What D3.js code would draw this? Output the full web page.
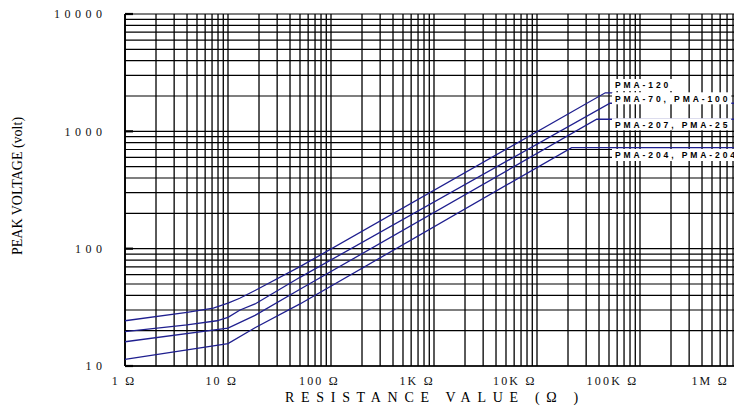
<!DOCTYPE html>
<html><head><meta charset="utf-8">
<script src="https://cdn.jsdelivr.net/npm/d3@7"></script>
<style>html,body{margin:0;padding:0;background:#fff;} svg{display:block;}</style>
</head><body>
<script>
// ---- data ----
const seriesNames = ["PMA-120", "PMA-70, PMA-100", "PMA-207, PMA-25", "PMA-204, PMA-204"];
const r120 = [1, 4, 7.2, 10, 13, 18.3, 50, 46000, 54700];
const v120 = [24.3, 28.7, 31.1, 34.3, 37.8, 44, 70.3, 2130, 2130];
const r70  = [1, 4, 7.8, 10, 13.1, 18.3, 50, 51100, 1000000];
const v70  = [19.6, 22.4, 24.3, 26.0, 30.0, 33.8, 57, 1736, 1736];
const r207 = [1, 10, 18.3, 50, 38000, 1000000];
const v207 = [16.1, 21.0, 27, 45.1, 1268, 1268];
const r204 = [1, 10, 18.3, 50, 21700, 1000000];
const v204 = [11.4, 15.5, 21.2, 33.8, 726, 726];
const xTickValues = [1, 10, 100, 1e3, 1e4, 1e5, 1e6];
const xTickLabels = ["1 Ω", "10 Ω", "100 Ω", "1K Ω", "10K Ω", "100K Ω", "1M Ω"];
const yTickValues = [10, 100, 1000, 10000];
const yTickLabels = ["10", "100", "1000", "10000"];
const xTitle = "RESISTANCE VALUE (Ω )";
const yTitle = "PEAK VOLTAGE (volt)";

(function () {
// ---- layout ----
const W = 734, H = 412;
const leftX = 125, topY = 14, bottomY = 366, decade = 103;
const svg = d3.select("body").append("svg").attr("width", W).attr("height", H)
  .style("background", "#fff");

const x = d3.scaleLog().domain([1, 1e6]).range([leftX, leftX + 6 * decade]);
const y = d3.scaleLog().domain([10, 10000]).range([bottomY, topY]);
const xLab = d3.scaleLog().domain([1, 1e6]).range([123, 709]);
const serif = "'Liberation Serif', 'Times New Roman', serif";

const g = svg.append("g");
// vertical grid
g.selectAll("line.vg").data(x.ticks()).enter().append("line")
  .attr("x1", d => x(d)).attr("x2", d => x(d))
  .attr("y1", topY).attr("y2", bottomY)
  .attr("stroke", "#000").attr("stroke-width", 1.3);
// horizontal grid
g.selectAll("line.hg").data(y.ticks()).enter().append("line")
  .attr("x1", leftX).attr("x2", W + 20)
  .attr("y1", d => y(d)).attr("y2", d => y(d))
  .attr("stroke", "#000").attr("stroke-width", 1.2);
// axis lines
g.append("line").attr("x1", leftX).attr("x2", leftX).attr("y1", topY).attr("y2", bottomY)
  .attr("stroke", "#000").attr("stroke-width", 1.8);
g.append("line").attr("x1", leftX).attr("x2", W + 20).attr("y1", bottomY).attr("y2", bottomY)
  .attr("stroke", "#000").attr("stroke-width", 1.5);
// major tick stubs
g.selectAll("line.mt").data(yTickValues).enter().append("line")
  .attr("x1", leftX).attr("x2", leftX + 8)
  .attr("y1", d => y(d)).attr("y2", d => y(d))
  .attr("stroke", "#000").attr("stroke-width", 2.2);

// curves
const series = [[r120, v120], [r70, v70], [r207, v207], [r204, v204]];
const line = d3.line().x(d => x(d[0])).y(d => y(d[1]));
series.forEach(([rs, vs]) => {
  svg.append("path").datum(rs.map((r, i) => [r, vs[i]]))
    .attr("d", line).attr("fill", "none")
    .attr("stroke", "#1f1f8f").attr("stroke-width", 1.3);
});

// legend labels with white backgrounds
const rowY = [85, 98.3, 124.3, 155];
seriesNames.forEach((name, i) => {
  const rect = svg.append("rect").attr("fill", "#fff");
  const t = svg.append("text").attr("x", 615).attr("y", rowY[i] + 3.2)
    .attr("font-family", "'Liberation Sans', Arial, sans-serif")
    .attr("font-weight", "bold").attr("font-size", 8.5)
    .attr("letter-spacing", 2.9).attr("fill", "#000").text(name);
  const bb = t.node().getBBox();
  rect.attr("x", 612).attr("y", rowY[i] - 6)
    .attr("width", bb.x + bb.width - 612 + 1).attr("height", 12);
});

// y tick labels
const ySp = 4.5;
svg.selectAll("text.yl").data(yTickValues).enter().append("text")
  .attr("x", 102 + ySp).attr("y", d => y(d) + 4.2)
  .attr("text-anchor", "end")
  .attr("font-family", serif)
  .attr("font-size", 12).attr("letter-spacing", ySp).attr("fill", "#111")
  .text((d, i) => yTickLabels[i]);

// x tick labels
const xSp = 2.2;
svg.selectAll("text.xl").data(xTickValues).enter().append("text")
  .attr("x", d => xLab(d) + xSp / 2).attr("y", 384.5)
  .attr("text-anchor", "middle")
  .attr("font-family", serif)
  .attr("font-size", 12).attr("letter-spacing", xSp).attr("fill", "#111")
  .text((d, i) => xTickLabels[i]);

// titles
svg.append("text").attr("x", 285).attr("y", 401.5)
  .attr("font-family", serif)
  .attr("font-size", 14).attr("letter-spacing", 6.7).attr("fill", "#000")
  .text(xTitle);
svg.append("text").attr("transform", "translate(21.5,186) rotate(-90)")
  .attr("text-anchor", "middle")
  .attr("font-family", serif)
  .attr("font-size", 14).attr("fill", "#000")
  .text(yTitle);
})();
</script>
</body></html>
